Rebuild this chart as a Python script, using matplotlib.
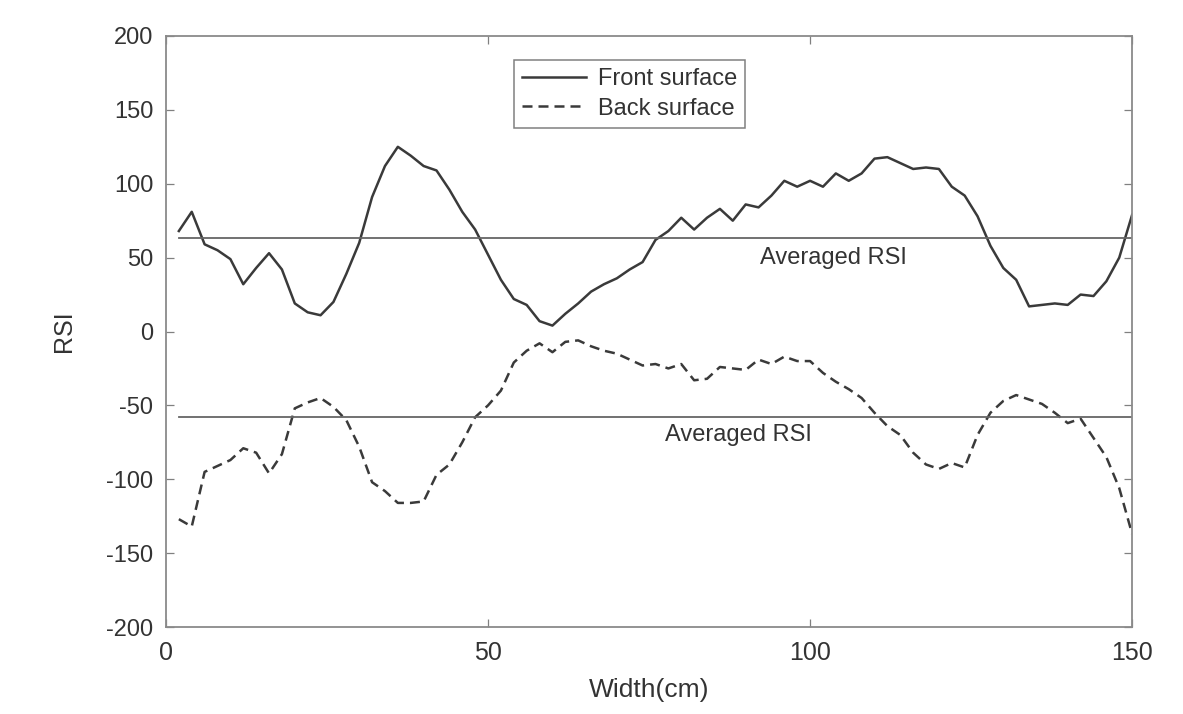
import numpy as np
import matplotlib.pyplot as plt

plt.rcParams['font.family'] = ['Liberation Sans', 'DejaVu Sans']

# data, width in cm every 2 cm
width = list(range(2, 151, 2))
front = [68, 81, 59, 55, 49, 32, 43, 53, 42, 19, 13, 11, 20, 39, 60, 91, 112, 125, 119, 112,
         109, 96, 81, 69, 52, 35, 22, 18, 7, 4, 12, 19, 27, 32, 36, 42, 47, 62, 68, 77,
         69, 77, 83, 75, 86, 84, 92, 102, 98, 102, 98, 107, 102, 107, 117, 118, 114, 110, 111, 110,
         98, 92, 78, 58, 43, 35, 17, 18, 19, 18, 25, 24, 34, 50, 79]
back = [-127, -132, -95, -91, -87, -79, -82, -96, -83, -52, -48, -45, -51, -60, -78, -102, -108, -116, -116, -115,
        -97, -90, -75, -58, -50, -40, -21, -13, -8, -14, -7, -6, -10, -13, -15, -19, -23, -22, -25, -22,
        -33, -32, -24, -25, -26, -19, -22, -17, -20, -20, -28, -34, -39, -45, -55, -64, -70, -82, -90, -93,
        -89, -92, -70, -55, -47, -43, -46, -49, -55, -62, -59, -72, -85, -106, -137]
front_avg = 63
back_avg = -58

txt = '#333333'

fig = plt.figure(figsize=(11.83, 7.14), dpi=100)
ax = fig.add_axes([0.1403, 0.1218, 0.8167, 0.8278])

ax.plot(width, front, color='#3a3a3a', lw=1.8, label='Front surface')
ax.plot(width, back, color='#3a3a3a', lw=1.8, ls=(0, (4, 2.4)), label='Back surface')
ax.plot([2, 150], [front_avg, front_avg], color='#666666', lw=1.3)
ax.plot([2, 150], [back_avg, back_avg], color='#666666', lw=1.3)

ax.text(103.7, 50, 'Averaged RSI', fontsize=17, color=txt, ha='center', va='center')
ax.text(88.8, -70, 'Averaged RSI', fontsize=17, color=txt, ha='center', va='center')

ax.set_xlim(0, 150)
ax.set_ylim(-200, 200)
ax.set_xticks([0, 50, 100, 150])
ax.set_yticks(np.arange(-200, 201, 50))
ax.set_yticklabels([str(v) for v in range(-200, 201, 50)])
ax.tick_params(direction='in', top=True, right=True, length=6, width=0.9,
               color='#808080', labelcolor=txt)
ax.tick_params(axis='y', labelsize=17, pad=9)
ax.tick_params(axis='x', labelsize=18, pad=10)
for s in ax.spines.values():
    s.set_color('#8a8a8a')
    s.set_linewidth(1.3)

ax.set_xlabel('Width(cm)', fontsize=19, color=txt)
ax.set_ylabel('RSI', fontsize=18, color=txt)
ax.xaxis.label.set_va('center')
ax.yaxis.label.set_va('center')
ax.xaxis.set_label_coords(0.5, -0.107)
ax.yaxis.set_label_coords(-0.106, 0.5)

leg = ax.legend(loc='upper left', bbox_to_anchor=(0.360, 0.959), borderaxespad=0, fontsize=17,
                fancybox=False, framealpha=1, edgecolor='#808080',
                handlelength=2.7, borderpad=0.35, labelspacing=0.3, handletextpad=0.5)
leg.get_frame().set_linewidth(1.1)
for t in leg.get_texts():
    t.set_color(txt)

fig.savefig('out.png', dpi=100)
